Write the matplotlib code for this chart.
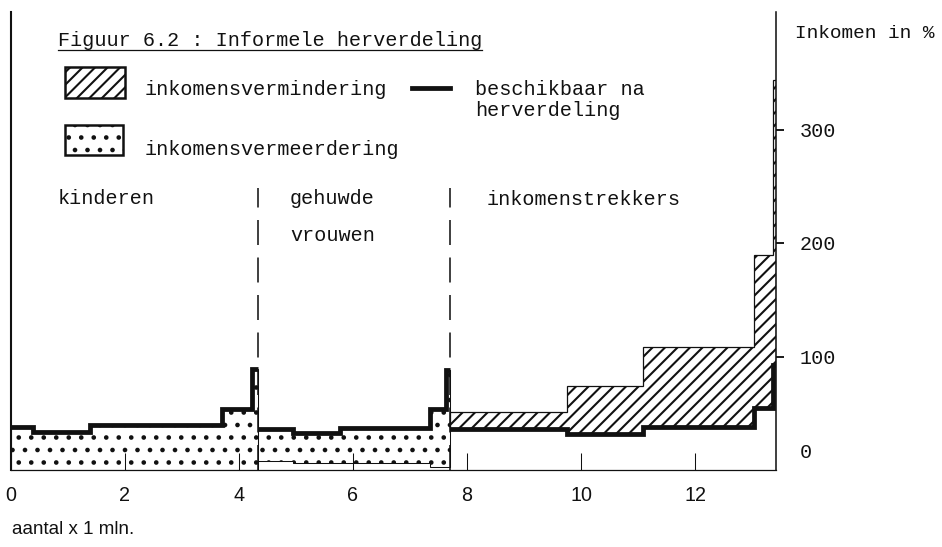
import matplotlib
matplotlib.use('Agg')
import matplotlib.pyplot as plt
from matplotlib.patches import Rectangle
from matplotlib.lines import Line2D

# ---------------- data (x: aantal x 1 mln, y: inkomen in %) ----------------
kind_edges = [0.0, 0.39, 1.39, 3.70, 4.23, 4.33]
kind_beschikbaar = [38, 33.5, 39.5, 53.7, 89]
kind_origineel = [0, 0, 0, 0, 0]

vrouw_edges = [4.33, 4.95, 5.77, 7.35, 7.63, 7.70]
vrouw_beschikbaar = [36, 32.6, 37, 53.7, 88]
vrouw_origineel = [8, 6.2, 6.2, 2.6, 2.6]

trek_edges = [7.70, 9.75, 11.09, 13.04, 13.37, 13.42]
trek_origineel = [51, 74, 108, 189, 344]
trek_beschikbaar = [36, 31.7, 38, 54.6, 92.5]

group_bounds = [4.33, 7.70]
x_ticks = [0, 2, 4, 6, 8, 10, 12]
x_ticklabels = ['0', '2', '4', '6', '8', '10', '12']
y_ticks = [100, 200, 300]
y_ticklabels = ['100', '200', '300']
y_zero_label = '0'

title = 'Figuur 6.2 : Informele herverdeling'
leg_min = 'inkomensvermindering'
leg_meer = 'inkomensvermeerdering'
leg_line = ['beschikbaar na', 'herverdeling']
grp_kind = ['kinderen']
grp_vrouw = ['gehuwde', 'vrouwen']
grp_trek = ['inkomenstrekkers']
y_title = 'Inkomen in %'
x_title = 'aantal x 1 mln.'

# ---------------- style / layout ----------------
W, H, DPI = 942, 547, 150
INK = '#111111'
MONO = ['Liberation Mono', 'DejaVu Sans Mono']
SANS = ['Liberation Sans', 'DejaVu Sans']
FS = 9.7
HATCH_MIN = '////'
HATCH_MEER = '..'
plt.rcParams['hatch.linewidth'] = 1.0
plt.rcParams['hatch.color'] = INK

fig = plt.figure(figsize=(W / DPI, H / DPI), dpi=DPI)
fig.patch.set_facecolor('white')

X0, Y0 = 11, 470          # pixel of data origin
PXX, PXY = 57.0, 1.135    # px per unit
ax = fig.add_axes([X0 / W, (H - Y0) / H, (776 - X0) / W, Y0 / H])
ax.set_xlim(0, (776 - X0) / PXX)
ax.set_ylim(0, Y0 / PXY)
ax.set_facecolor('none')


def F(px, py):
    return px / W, 1 - py / H


# fills
ax.stairs(kind_beschikbaar, kind_edges, baseline=kind_origineel, fill=True,
          facecolor='white', edgecolor=INK, lw=0.5, hatch=HATCH_MEER)
ax.stairs(vrouw_beschikbaar, vrouw_edges, baseline=vrouw_origineel, fill=True,
          facecolor='white', edgecolor=INK, lw=0.5, hatch=HATCH_MEER)
ax.stairs(trek_origineel, trek_edges, baseline=trek_beschikbaar, fill=True,
          facecolor='white', edgecolor=INK, lw=0.6, hatch=HATCH_MIN)

# thick line: beschikbaar na herverdeling
for e, v in [(kind_edges, kind_beschikbaar), (vrouw_edges, vrouw_beschikbaar),
             (trek_edges, trek_beschikbaar)]:
    ax.stairs(v, e, baseline=None, color=INK, lw=2.3)

# dashed dividers
div_top = (Y0 - 188) / PXY
for b in group_bounds:
    ax.plot([b, b], [0, div_top], color=INK, lw=0.75, linestyle=(0, (16, 8)))

# spines
ax.spines['top'].set_visible(False)
ax_top = (Y0 - 12) / PXY
ax.spines['left'].set_bounds(0, ax_top)
ax.spines['left'].set_linewidth(1.0)
ax.spines['right'].set_bounds(0, ax_top)
ax.spines['right'].set_linewidth(0.75)
ax.spines['bottom'].set_linewidth(0.6)
for s in ax.spines.values():
    s.set_color(INK)

# ticks
ax.set_xticks(x_ticks, x_ticklabels)
ax.tick_params(axis='x', direction='in', length=8.0, width=0.5, pad=7.5,
               colors=INK, labelsize=9.5)
for t in ax.get_xticklabels():
    t.set_fontfamily(SANS)
ax.yaxis.tick_right()
ax.set_yticks(y_ticks, y_ticklabels)
ax.tick_params(axis='y', direction='out', length=3.8, width=0.9, pad=7.5,
               colors=INK, labelsize=FS)
for t in ax.get_yticklabels():
    t.set_fontfamily(MONO)

fig.text(*F(800, 453), y_zero_label, fontsize=FS, family=MONO, color=INK, va='center')

# texts
tt = fig.text(*F(58, 46), title, fontsize=FS, family=MONO, color=INK, va='baseline')
fig.text(*F(795, 38), y_title, fontsize=9.3, family=MONO, color=INK, va='baseline')
fig.text(*F(12, 530), x_title, fontsize=9.0, family=SANS, color=INK, va='center')

fig.text(*F(145, 95), leg_min, fontsize=FS, family=MONO, color=INK, va='baseline')
fig.text(*F(145, 155), leg_meer, fontsize=FS, family=MONO, color=INK, va='baseline')
fig.text(*F(475, 95), leg_line[0], fontsize=FS, family=MONO, color=INK, va='baseline')
fig.text(*F(475, 116), leg_line[1], fontsize=FS, family=MONO, color=INK, va='baseline')

fig.text(*F(58, 204), grp_kind[0], fontsize=FS, family=MONO, color=INK, va='baseline')
fig.text(*F(290, 204), grp_vrouw[0], fontsize=FS, family=MONO, color=INK, va='baseline')
fig.text(*F(290, 241), grp_vrouw[1], fontsize=FS, family=MONO, color=INK, va='baseline')
fig.text(*F(487, 205), grp_trek[0], fontsize=FS, family=MONO, color=INK, va='baseline')

# legend symbols
x_a, y_a = F(65, 98)
fig.add_artist(Rectangle((x_a, y_a), 60 / W, 31 / H, transform=fig.transFigure,
                         facecolor='white', edgecolor=INK, lw=1.2, hatch=HATCH_MIN))
x_b, y_b = F(65, 155)
fig.add_artist(Rectangle((x_b, y_b), 58 / W, 30 / H, transform=fig.transFigure,
                         facecolor='white', edgecolor=INK, lw=1.2, hatch=HATCH_MEER))
fig.add_artist(Line2D([412 / W, 450 / W], [1 - 88 / H, 1 - 88 / H],
                      transform=fig.transFigure, color=INK, lw=2.3))

# underline title
fig.canvas.draw()
bb = tt.get_window_extent(fig.canvas.get_renderer())
uy = 1 - 50 / H
fig.add_artist(Line2D([bb.x0 / W, bb.x1 / W], [uy, uy], transform=fig.transFigure,
                      color=INK, lw=0.6))

fig.savefig('out.png', dpi=DPI, facecolor='white')
